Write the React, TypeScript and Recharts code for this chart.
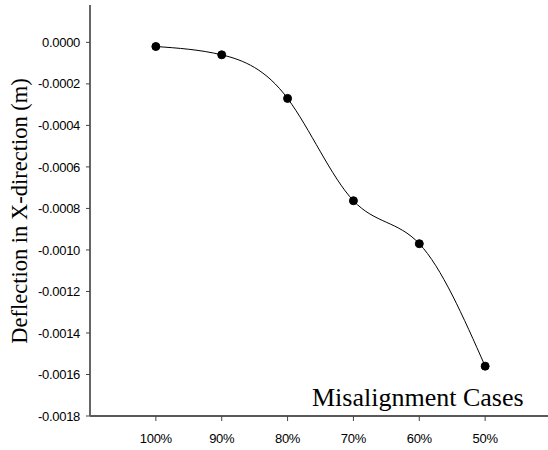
import { LineChart, Line, XAxis, YAxis } from 'recharts';

// misalignment cases
const cases = ['100%', '90%', '80%', '70%', '60%', '50%'];
const casePos = [1, 2, 3, 4, 5, 6];
const deflection = [-0.00002, -0.00006, -0.00027, -0.000763, -0.00097, -0.00156];
const yTicks = [0, -0.0002, -0.0004, -0.0006, -0.0008, -0.001, -0.0012, -0.0014, -0.0016, -0.0018];

const data = casePos.map((pos, i) => ({ pos, label: cases[i], value: deflection[i] }));

const tickFont = { fontFamily: '"Liberation Sans", Arial, sans-serif', fontSize: 13, fill: '#000', letterSpacing: -0.3 };

export default function App() {
  return (
    <div style={{ position: 'absolute', left: 0, top: 0, width: 548, height: 450, overflow: 'hidden', background: '#fff' }}>
      <LineChart
        width={560}
        height={450}
        data={data}
        margin={{ top: 5, right: 9, left: 0, bottom: 0 }}
      >
        <XAxis
          xAxisId="top"
          orientation="top"
          dataKey="pos"
          type="number"
          domain={[0, 7]}
          height={0}
          tick={false}
          tickLine={false}
          axisLine={{ stroke: '#666', strokeWidth: 2 }}
        />
        <XAxis
          dataKey="pos"
          type="number"
          domain={[0, 7]}
          ticks={casePos}
          tickFormatter={(v: number) => cases[v - 1]}
          height={34}
          tickSize={5}
          tickMargin={13}
          tick={tickFont}
          axisLine={{ stroke: '#222', strokeWidth: 1.5 }}
          tickLine={{ stroke: '#444' }}
        />
        <YAxis
          type="number"
          domain={[-0.0018, 0.00018]}
          ticks={yTicks}
          tickFormatter={(v: number) => v.toFixed(4)}
          width={90}
          tickSize={4}
          tickMargin={6}
          tick={tickFont}
          allowDataOverflow
          axisLine={{ stroke: '#666', strokeWidth: 2 }}
          tickLine={{ stroke: '#444' }}
        />
        <Line
          xAxisId={0}
          type="natural"
          dataKey="value"
          stroke="#000"
          strokeWidth={1}
          dot={{ r: 4, fill: '#000', stroke: '#000', strokeWidth: 1 }}
          activeDot={false}
          isAnimationActive={false}
        />
        <text
          x={27}
          y={211}
          transform="rotate(-90 27 211)"
          textAnchor="middle"
          style={{ fontFamily: '"Liberation Serif", "Times New Roman", serif', fontSize: 22.5, fill: '#000' }}
        >
          Deflection in X-direction (m)
        </text>
        <text
          x={312}
          y={406}
          style={{ fontFamily: '"Liberation Serif", "Times New Roman", serif', fontSize: 26, fill: '#000' }}
        >
          Misalignment Cases
        </text>
      </LineChart>
    </div>
  );
}
